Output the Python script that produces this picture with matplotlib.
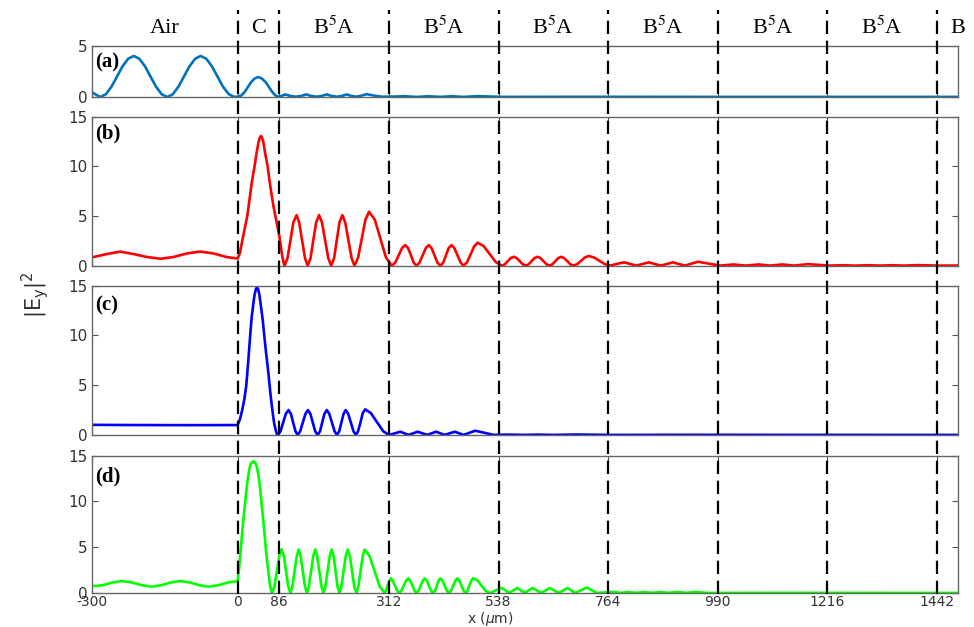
import matplotlib
matplotlib.use('Agg')
import matplotlib.pyplot as plt
from matplotlib.lines import Line2D
from matplotlib import transforms

plt.rcParams['axes.unicode_minus'] = False

# layer boundaries (x in um) and layer names
bounds = [0, 86, 312, 538, 764, 990, 1216, 1442]
layer_names = ['Air', 'C', 'B$^5$A', 'B$^5$A', 'B$^5$A', 'B$^5$A', 'B$^5$A', 'B$^5$A', 'B']
layer_pos = [-150, 43, 199, 425, 651, 877, 1103, 1329, 1484]
xticks = [-300, 0, 86, 312, 538, 764, 990, 1216, 1442]

# (a) field profile
xa = [-300, -283, -271.5, -260, -248.5, -237, -225.5, -214, -202.5, -191, -179.5, -168, -156.5,
      -145, -133.5, -122, -110.5, -99, -87.5, -76, -64.5, -53, -41.5, -30, -18, -6,
      0, 7, 14, 21, 28, 35, 43, 50, 58, 65, 72, 79, 86,
      98, 109, 120, 131, 142, 152, 163, 173, 184, 194, 205, 215, 225, 235, 245, 255, 266, 283, 300,
      345, 369, 394, 418, 441, 466, 495, 545, 700, 1000, 1485]
ya = [0.45, 0.0, 0.27, 1.0, 2.0, 3.0, 3.73, 4.0, 3.73, 3.0, 2.0, 1.0, 0.27,
      0.0, 0.27, 1.0, 2.0, 3.0, 3.73, 4.0, 3.73, 3.0, 2.0, 1.0, 0.27, 0.0,
      0.05, 0.12, 0.45, 0.95, 1.45, 1.8, 1.95, 1.8, 1.45, 0.95, 0.45, 0.12, 0.02,
      0.25, 0.1, 0.03, 0.1, 0.25, 0.1, 0.03, 0.1, 0.25, 0.1, 0.03, 0.1, 0.25, 0.1, 0.03, 0.12, 0.28, 0.12, 0.02,
      0.07, 0.01, 0.07, 0.01, 0.07, 0.01, 0.08, 0.01, 0.02, 0.01, 0.01]

# (b)
xb = [-300, -270, -242, -214, -187, -159, -132, -104, -77, -50, -23,
      0, 5, 10, 15, 20, 25, 30, 35, 39, 43, 46, 48, 50, 53, 57, 62, 66, 70, 74, 78, 82, 86, 89, 92, 95, 97,
      103, 109, 115, 121.7, 127, 133, 139, 144.5,
      150.5, 156, 162, 168, 174, 180.5, 187, 193,
      199, 204.5, 210, 216, 222, 228.5, 235, 241,
      248.5, 256, 263.5, 271, 283, 294.5, 306, 318,
      325, 332, 339, 345.7, 351.5, 357.5, 363, 369,
      375, 381.5, 388, 394, 400, 406, 412, 418,
      424, 429.5, 435, 441, 447, 453.5, 460, 466,
      473, 480.5, 488, 495, 507.5, 520, 532.5, 545,
      551, 557, 563, 569.5, 575.5, 582, 588, 594,
      600, 606, 612, 618.5, 624.5, 631, 637, 643,
      649, 655, 661, 667, 673, 680, 686, 692,
      700, 708, 716, 723.5, 735, 746, 757.5, 769,
      781, 797, 810, 822, 835, 848, 860, 872, 885, 897, 910, 922, 935, 949, 972, 995,
      1022, 1048, 1074, 1098, 1123, 1148, 1175, 1221,
      1248, 1274, 1300, 1324, 1349, 1374, 1401, 1447, 1485]
yb = [0.84, 1.17, 1.42, 1.17, 0.88, 0.70, 0.88, 1.24, 1.42, 1.24, 0.88,
      0.72, 1.3, 2.6, 3.8, 5.0, 6.8, 8.6, 10.0, 11.3, 12.4, 12.9, 13.06, 12.95, 12.5, 11.3, 10.0, 8.5, 7.2, 6.0,
      5.0, 4.0, 3.0, 2.0, 1.0, 0.3, 0.0,
      0.77, 2.55, 4.35, 5.1, 4.35, 2.55, 0.77, 0.0,
      0.77, 2.55, 4.35, 5.1, 4.35, 2.55, 0.77, 0.0,
      0.77, 2.55, 4.35, 5.1, 4.35, 2.55, 0.77, 0.0,
      0.82, 2.72, 4.62, 5.44, 4.62, 2.72, 0.82, 0.0,
      0.31, 1.04, 1.77, 2.08, 1.77, 1.04, 0.31, 0.0,
      0.31, 1.04, 1.77, 2.08, 1.77, 1.04, 0.31, 0.0,
      0.31, 1.04, 1.77, 2.08, 1.77, 1.04, 0.31, 0.0,
      0.35, 1.16, 1.97, 2.32, 1.97, 1.16, 0.35, 0.0,
      0.14, 0.45, 0.77, 0.9, 0.77, 0.45, 0.14, 0.02,
      0.14, 0.45, 0.77, 0.9, 0.77, 0.45, 0.14, 0.02,
      0.14, 0.45, 0.77, 0.9, 0.77, 0.45, 0.14, 0.02,
      0.15, 0.49, 0.83, 0.98, 0.83, 0.49, 0.15, 0.02,
      0.17, 0.34, 0.17, 0.01, 0.17, 0.34, 0.17, 0.01, 0.17, 0.34, 0.17, 0.01, 0.2, 0.4, 0.2, 0.01,
      0.13, 0.01, 0.13, 0.01, 0.13, 0.01, 0.16, 0.01,
      0.05, 0.01, 0.05, 0.01, 0.05, 0.01, 0.06, 0.01, 0.02]

# (c)
xc = [-300, -200, -100, 0,
      5, 10, 14, 18, 22, 26, 29, 32, 35, 38, 40, 42, 45, 48, 52, 55, 58, 61, 64, 66, 69, 72, 75, 78, 81, 83,
      88.5, 94, 99.5, 105, 110, 114.5, 119.5, 124,
      129, 134.5, 140, 145, 150, 155, 160, 165,
      170, 174.5, 179, 184, 189, 194.5, 200, 205,
      209.5, 214, 218.5, 223, 228, 233.5, 239, 244,
      248.5, 253.5, 258, 263, 275, 287.5, 300, 312,
      324, 335.6, 344, 352, 362, 371, 381, 391, 400, 409, 418, 427,
      437, 448, 457, 466, 478, 490, 509, 528,
      560, 590, 620, 650, 700, 764, 900, 1485]
yc = [1.02, 1.0, 0.99, 1.0,
      1.6, 2.6, 3.6, 5.0, 7.4, 10.0, 11.8, 13.0, 14.1, 14.7, 14.84, 14.7, 14.1, 13.0, 11.5, 10.0, 8.6, 7.3, 6.0,
      5.0, 3.6, 2.4, 1.3, 0.6, 0.1, 0.0,
      0.37, 1.26, 2.13, 2.51, 2.13, 1.26, 0.37, 0.0,
      0.37, 1.26, 2.13, 2.51, 2.13, 1.26, 0.37, 0.0,
      0.37, 1.26, 2.13, 2.51, 2.13, 1.26, 0.37, 0.0,
      0.37, 1.26, 2.13, 2.51, 2.13, 1.26, 0.37, 0.0,
      0.39, 1.29, 2.19, 2.58, 2.19, 1.29, 0.39, 0.0,
      0.17, 0.33, 0.17, 0.01, 0.17, 0.33, 0.17, 0.01, 0.17, 0.33, 0.17, 0.01,
      0.17, 0.33, 0.17, 0.01, 0.22, 0.43, 0.22, 0.01,
      0.04, 0.01, 0.04, 0.01, 0.05, 0.01, 0.02, 0.01]

# (d)
xd = [-300, -278, -258, -238, -218, -197, -177, -157, -138, -118, -98, -79, -60, -40, -20,
      0, 3, 7, 11, 16, 19, 22, 25, 28, 33, 37, 40, 43, 46, 49, 52, 54, 56, 58, 61, 63, 65, 67, 69, 71,
      76, 81, 86, 91, 95.5, 100, 104.5, 109,
      113, 117.5, 122, 126, 130, 134.5, 139, 143,
      147, 151.5, 156, 160, 164, 168.5, 173, 177,
      181, 185.5, 190, 194, 198, 202, 206, 210,
      214, 218.5, 223, 227, 231.5, 236, 240.5, 245,
      249, 253.5, 258, 262, 272, 282.5, 293, 303,
      306, 309.5, 313, 316, 320, 324.5, 329, 333,
      337.5, 342.5, 347.5, 352, 356, 360.5, 365, 369,
      373, 377.5, 382, 386, 390, 394.5, 399, 403,
      407, 411, 414.5, 418, 422.5, 427, 431.5, 436,
      440, 444.5, 449, 453, 457, 461.5, 466, 470,
      474, 478, 482, 486, 494.5, 503, 511.5, 520,
      532, 545, 552, 560, 568, 577, 584, 592, 600, 608, 617, 626,
      635, 644, 653, 662, 671, 680, 688, 696, 708, 720, 730, 741,
      775, 790, 805, 822, 838, 855, 872, 888, 905, 925, 945, 968, 1100, 1485]
yd = [0.74, 0.85, 1.15, 1.31, 1.15, 0.85, 0.69, 0.85, 1.15, 1.31, 1.15, 0.85, 0.69, 0.85, 1.15,
      1.3, 2.6, 5.0, 7.5, 10.0, 11.6, 12.8, 13.7, 14.2, 14.4, 14.2, 13.7, 12.9, 11.7, 10.0, 8.4, 7.4, 6.2, 5.0,
      3.4, 2.5, 1.6, 0.8, 0.3, 0.0,
      0.71, 2.38, 4.04, 4.78, 4.04, 2.38, 0.71, 0.0,
      0.71, 2.38, 4.04, 4.75, 4.04, 2.38, 0.71, 0.0,
      0.71, 2.38, 4.04, 4.75, 4.04, 2.38, 0.71, 0.0,
      0.71, 2.38, 4.04, 4.75, 4.04, 2.38, 0.71, 0.0,
      0.71, 2.38, 4.04, 4.75, 4.04, 2.38, 0.71, 0.0,
      0.71, 2.38, 4.04, 4.75, 4.04, 2.38, 0.71, 0.0,
      0.24, 0.8, 1.36, 1.6, 1.36, 0.8, 0.24, 0.0,
      0.24, 0.8, 1.36, 1.6, 1.36, 0.8, 0.24, 0.0,
      0.24, 0.8, 1.36, 1.6, 1.36, 0.8, 0.24, 0.0,
      0.24, 0.8, 1.36, 1.6, 1.36, 0.8, 0.24, 0.0,
      0.24, 0.8, 1.36, 1.6, 1.36, 0.8, 0.24, 0.0,
      0.24, 0.8, 1.38, 1.62, 1.38, 0.8, 0.24, 0.0,
      0.28, 0.55, 0.28, 0.01, 0.28, 0.55, 0.28, 0.01, 0.28, 0.55, 0.28, 0.01,
      0.28, 0.55, 0.28, 0.01, 0.28, 0.55, 0.28, 0.01, 0.3, 0.6, 0.3, 0.01,
      0.12, 0.01, 0.12, 0.01, 0.12, 0.01, 0.12, 0.01, 0.12, 0.01, 0.12, 0.01, 0.02, 0.01]

panels = [(xa, ya, '#0072BD', '(a)', [0, 5]),
          (xb, yb, '#FF0000', '(b)', [0, 5, 10, 15]),
          (xc, yc, '#0000FF', '(c)', [0, 5, 10, 15]),
          (xd, yd, '#00FF00', '(d)', [0, 5, 10, 15])]

# axes rectangles in figure fraction
rects = [[0.0945, 0.8453, 0.889, 0.0818],
         [0.0945, 0.5762, 0.889, 0.2376],
         [0.0945, 0.3062, 0.889, 0.2381],
         [0.0945, 0.0542, 0.889, 0.2190]]
label_y = [0.68, 0.89, 0.87, 0.85]

fig = plt.figure(figsize=(9.74, 6.27), dpi=100)
axes = []
for i, (x, y, col, lab, yt) in enumerate(panels):
    ax = fig.add_axes(rects[i])
    ax.plot(x, y, color=col, lw=1.9, solid_joinstyle='round')
    ax.set_xlim(-300, 1485)
    ax.set_ylim(yt[0], yt[-1])
    ax.set_yticks(yt)
    ax.set_xticks(xticks)
    ax.tick_params(direction='in', top=True, right=True, length=4, width=0.8,
                   color='#555555', labelcolor='#333333')
    ax.tick_params(axis='y', labelsize=11, pad=3)
    ax.tick_params(axis='x', labelsize=10, pad=1.5)
    if i < 3:
        ax.tick_params(labelbottom=False)
    for s in ax.spines.values():
        s.set_color('#666666')
        s.set_linewidth(1.0)
    ax.text(0.003, label_y[i], lab, transform=ax.transAxes, ha='left', va='center',
            fontsize=15, fontweight='bold', family='Liberation Serif')
    axes.append(ax)

fig.text(0.503, 0.0135, r'x ($\mu$m)', ha='center', va='center', fontsize=10, color='#333333')
fig.text(0.036, 0.53, r'$|\mathrm{E}_\mathrm{y}|^2$', rotation=90, ha='center',
         va='center', fontsize=15, color='#333333')

# dashed boundaries spanning all panels
tr = transforms.blended_transform_factory(axes[3].transData, fig.transFigure)
for b in bounds:
    fig.add_artist(Line2D([b, b], [0.052, 0.984], transform=tr, color='black',
                          lw=1.6, ls=(0, (6, 3))))

# layer names above the top panel
plt.rcParams['mathtext.fontset'] = 'stix'
for name, xp in zip(layer_names, layer_pos):
    fig.text(xp, 0.955, name, transform=tr, ha='center', va='center',
             fontsize=16, family='Liberation Serif')

fig.savefig('out.png', dpi=100)
